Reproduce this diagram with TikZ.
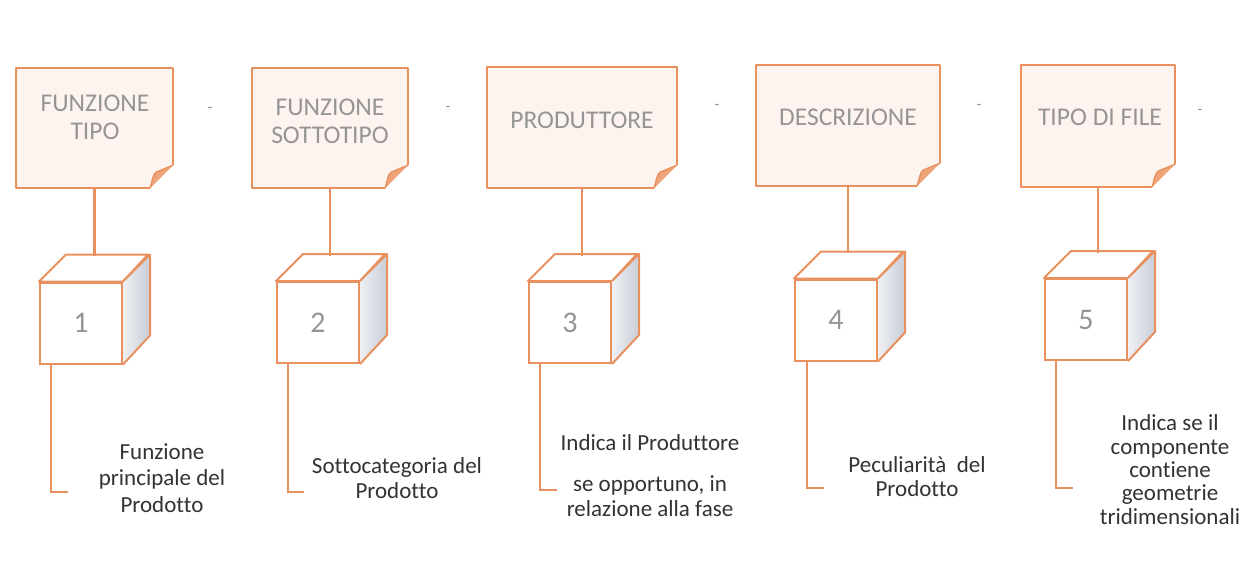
\documentclass[tikz,border=0pt]{standalone}
\usepackage{fontspec}
\setmainfont{Carlito}[Ligatures={NoCommon,NoContextual}]
\definecolor{ocol}{HTML}{E8915E}
\definecolor{notefill}{HTML}{FEF4EF}
\definecolor{flapcol}{HTML}{EFA57A}
\definecolor{ngray}{HTML}{959595}
\definecolor{dgray}{HTML}{333333}
\definecolor{sidelight}{HTML}{EEF0F4}
\definecolor{sidedark}{HTML}{C9CDD6}
\tikzset{
  noteframe/.style={inner sep=0pt, draw=none},
  notetext/.style={text=ngray, font=\fontsize{25.5}{28}\selectfont, align=center, inner sep=0pt},
  cubefront/.style={draw=ocol, line width=2pt, fill=white, minimum width=82pt, minimum height=81pt, inner sep=0pt, text=ngray, font=\fontsize{30}{30}\selectfont},
  cubeedge/.style={draw=ocol, line width=2pt, line join=round},
  desc/.style={text=dgray, font=\fontsize{23}{26}\selectfont, align=center, inner sep=0pt},
  link/.style={draw=ocol, line width=2.2pt},
  smalldash/.style={text=ngray, font=\fontsize{16}{16}\selectfont, inner sep=0pt},
}
\newcommand\dogear[1]{%
  \fill[notefill] (#1.north west) -- (#1.north east) -- ([yshift=23pt]#1.south east) -- ([xshift=-23pt]#1.south east) -- (#1.south west) -- cycle;
  \fill[flapcol] ([xshift=-23pt]#1.south east) .. controls ([xshift=-21pt,yshift=8pt]#1.south east) and ([xshift=-20pt,yshift=14pt]#1.south east) .. ([xshift=-17pt,yshift=16pt]#1.south east) .. controls ([xshift=-10pt,yshift=19pt]#1.south east) .. ([yshift=23pt]#1.south east) -- cycle;
  \draw[ocol, line width=2.4pt, line join=round] ([yshift=23pt]#1.south east) -- (#1.north east) -- (#1.north west) -- (#1.south west) -- ([xshift=-23pt]#1.south east);
  \draw[ocol, line width=1.4pt] ([xshift=-23pt]#1.south east) .. controls ([xshift=-21pt,yshift=8pt]#1.south east) and ([xshift=-20pt,yshift=14pt]#1.south east) .. ([xshift=-17pt,yshift=16pt]#1.south east) .. controls ([xshift=-10pt,yshift=19pt]#1.south east) .. ([yshift=23pt]#1.south east);
}
\newcommand\cubefaces[1]{%
  \filldraw[cubeedge, fill=white] (#1.north west) -- ++(27,-27) -- ++(82,0) -- (#1.north east) -- cycle;
  \shade[left color=sidelight, right color=sidedark] (#1.north east) -- ++(27,-27) -- ++(0,81) -- (#1.south east) -- cycle;
  \draw[cubeedge] (#1.north east) -- ++(27,-27) -- ++(0,81) -- (#1.south east);
}
\begin{document}
\begin{tikzpicture}[x=1pt,y=-1pt]
\useasboundingbox[fill=white] (0,0) rectangle (1250,571);

% note frames
\node[noteframe, minimum width=157pt, minimum height=120pt] (n1) at (94.5,128) {};
\node[noteframe, minimum width=156pt, minimum height=120pt] (n2) at (330,128) {};
\node[noteframe, minimum width=190pt, minimum height=121pt] (n3) at (582,127.5) {};
\node[noteframe, minimum width=184pt, minimum height=121pt] (n4) at (848,125.5) {};
\node[noteframe, minimum width=154pt, minimum height=122pt] (n5) at (1098,126) {};
\dogear{n1}\dogear{n2}\dogear{n3}\dogear{n4}\dogear{n5}

% note texts
\node[notetext] (l1) at (95,117) {FUNZIONE\\TIPO};
\node[notetext] (l2) at (330,121) {FUNZIONE\\SOTTOTIPO};
\node[notetext] (l3) at (582,120) {PRODUTTORE};
\node[notetext] (l4) at (848,117) {DESCRIZIONE};
\node[notetext] (l5) at (1100,117) {TIPO DI FILE};

% small dashes between notes
\node[smalldash] (d1) at (210,110) {-};
\node[smalldash] (d2) at (448,109) {-};
\node[smalldash] (d3) at (717,107) {-};
\node[smalldash] (d4) at (979,107) {-};
\node[smalldash] (d5) at (1200,112) {-};

% cubes
\node[cubefront] (c1) at (81,323) {1};
\node[cubefront] (c2) at (318,322.5) {2};
\node[cubefront] (c3) at (570,322.5) {3};
\node[cubefront] (c4) at (836,320) {4};
\node[cubefront] (c5) at (1086,319.5) {5};
\cubefaces{c1}\cubefaces{c2}\cubefaces{c3}\cubefaces{c4}\cubefaces{c5}
% redraw front faces on top
\node[cubefront] at (c1) {1};
\node[cubefront] at (c2) {2};
\node[cubefront] at (c3) {3};
\node[cubefront] at (c4) {4};
\node[cubefront] at (c5) {5};

% top connectors (note -> cube)
\coordinate (t1) at (94.5,256);
\coordinate (t2) at (330,255.5);
\coordinate (t3) at (582,255.5);
\coordinate (t4) at (848,253);
\coordinate (t5) at (1098,252.5);
\draw[link] (n1.south) -- (t1);
\draw[link] (n2.south) -- (t2);
\draw[link] (n3.south) -- (t3);
\draw[link] (n4.south) -- (t4);
\draw[link] (n5.south) -- (t5);

% bottom connectors
\coordinate (e1) at (68,492);
\coordinate (e2) at (304,492);
\coordinate (e3) at (557,490);
\coordinate (e4) at (824,488);
\coordinate (e5) at (1073,488);
\draw[link] ([xshift=12pt]c1.south west) |- (e1);
\draw[link] ([xshift=12pt]c2.south west) |- (e2);
\draw[link] ([xshift=12pt]c3.south west) |- (e3);
\draw[link] ([xshift=13pt]c4.south west) |- (e4);
\draw[link] ([xshift=12pt]c5.south west) |- (e5);

% descriptions
\node[desc, font=\fontsize{23}{26.5}\selectfont] (t1d) at (162,478) {Funzione\\principale del\\Prodotto};
\node[desc, font=\fontsize{23}{25}\selectfont] (t2d) at (397,478.5) {Sottocategoria del\\Prodotto};
\node[desc] (t3a) at (650,443) {Indica il Produttore};
\node[desc, font=\fontsize{23}{25}\selectfont] (t3b) at (650,496.5) {se opportuno, in\\relazione alla fase};
\node[desc, font=\fontsize{23}{24}\selectfont] (t4d) at (917,477) {Peculiarità\ \ del\\Prodotto};
\node[desc, font=\fontsize{23}{23.3}\selectfont] (t5d) at (1170,469.5) {Indica se il\\componente\\contiene\\geometrie\\tridimensionali};
\end{tikzpicture}
\end{document}
